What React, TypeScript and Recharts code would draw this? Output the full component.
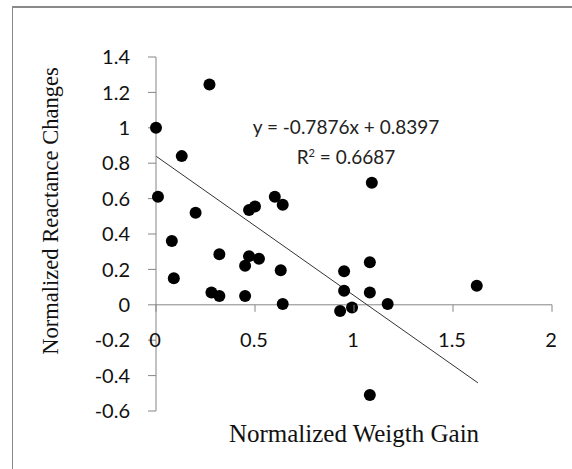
import { ScatterChart, Scatter, XAxis, YAxis, ReferenceLine, Label } from "recharts";

const xTicks = [0, 0.5, 1, 1.5, 2];
const yTicks = [-0.6, -0.4, -0.2, 0, 0.2, 0.4, 0.6, 0.8, 1, 1.2, 1.4];

// normalized weight gain (x) and reactance change (y)
const gain = [
  0, 0.01, 0.08, 0.09, 0.13, 0.2, 0.27, 0.28, 0.32, 0.32,
  0.45, 0.45, 0.47, 0.47, 0.5, 0.52, 0.6, 0.64, 0.63, 0.64,
  0.93, 0.95, 0.95, 0.99, 1.08, 1.08, 1.09, 1.08, 1.17, 1.62,
];
const reactance = [
  1.0, 0.61, 0.36, 0.15, 0.84, 0.52, 1.245, 0.07, 0.05, 0.285,
  0.05, 0.22, 0.275, 0.535, 0.555, 0.26, 0.61, 0.565, 0.195, 0.005,
  -0.035, 0.19, 0.08, -0.015, 0.24, 0.07, 0.69, -0.51, 0.005, 0.107,
];

const slope = -0.7876;
const intercept = 0.8397;
const r2 = 0.6687;
const trendEnd = 1.626;

const points = gain.map((x, i) => ({ x, y: reactance[i] }));

const W = 572;
const H = 469;
const M = { top: 57, right: 20, bottom: 0, left: 0 };
const xAxisH = 58;
const yMin = -0.6;
const yMax = 1.4;
const plotH = H - M.top - M.bottom - xAxisH;
const zeroShift = (plotH * (0 - yMin)) / (yMax - yMin);

const axisGrey = "#868686";
const tickFont = "Lato, 'Open Sans', sans-serif";
const titleFont = "'Liberation Serif', 'Times New Roman', serif";

function XTick(props: any) {
  const { x, y, payload } = props;
  const y0 = y - zeroShift;
  return (
    <g>
      <line x1={x} x2={x} y1={y0} y2={y0 + 7} stroke={axisGrey} />
      <text x={x - 1} y={y0 + 42} textAnchor="middle" fontSize={20} fontFamily={tickFont} fill="#111">
        {payload.value}
      </text>
    </g>
  );
}

function Dot(props: any) {
  return <circle cx={props.cx} cy={props.cy} r={6} fill="#000" />;
}

export default function App() {
  return (
    <div style={{ position: "fixed", left: 0, top: 0, width: W, height: H, overflow: "hidden", background: "#fff" }}>
      <div
        style={{
          position: "absolute",
          left: 12,
          top: 6,
          width: W,
          height: H,
          borderTop: "2px solid #8a8a8a",
          borderLeft: "1px solid #8a8a8a",
        }}
      />
      <ScatterChart width={W} height={H} margin={M} style={{ position: "absolute", left: 0, top: 0 }}>
        <XAxis
          type="number"
          dataKey="x"
          domain={[0, 2]}
          ticks={xTicks}
          height={xAxisH}
          axisLine={false}
          tickLine={false}
          tickSize={0}
          tickMargin={0}
          tick={<XTick />}
          interval={0}
        >
          <Label
            content={(p: any) => (
              <text x={p.viewBox.x + p.viewBox.width / 2} y={p.viewBox.y + 31} textAnchor="middle" fontSize={25} fontFamily={titleFont} fill="#111">
                Normalized Weigth Gain
              </text>
            )}
          />
        </XAxis>
        <YAxis
          type="number"
          dataKey="y"
          domain={[yMin, yMax]}
          ticks={yTicks}
          width={156}
          interval={0}
          axisLine={{ stroke: axisGrey }}
          tickLine={{ stroke: axisGrey }}
          tickSize={8}
          tickMargin={18}
          tick={{ fontSize: 20, fontFamily: tickFont, fill: "#111" }}
        >
          <Label
            content={(p: any) => {
              const cx = 58;
              const cy = p.viewBox.y + p.viewBox.height / 2 - 23;
              return (
                <text x={cx} y={cy} transform={`rotate(-90 ${cx} ${cy})`} textAnchor="middle" fontSize={22.5} fontFamily={titleFont} fill="#111">
                  Normalized Reactance Changes
                </text>
              );
            }}
          />
        </YAxis>
        <ReferenceLine y={0} stroke={axisGrey} />
        <ReferenceLine
          segment={[
            { x: 0, y: intercept },
            { x: trendEnd, y: slope * trendEnd + intercept },
          ]}
          stroke="#333"
          strokeWidth={1}
          ifOverflow="visible"
        />
        <Scatter data={points} shape={<Dot />} isAnimationActive={false} />
      </ScatterChart>
      <div
        style={{
          position: "absolute",
          left: 246,
          top: 112,
          width: 200,
          textAlign: "center",
          fontFamily: tickFont,
          fontSize: 19,
          lineHeight: "30px",
          color: "#222",
        }}
      >
        <div>y = {slope}x + {intercept}</div>
        <div>
          R<sup style={{ fontSize: 11, verticalAlign: "7px", lineHeight: 0 }}>2</sup> = {r2}
        </div>
      </div>
    </div>
  );
}
